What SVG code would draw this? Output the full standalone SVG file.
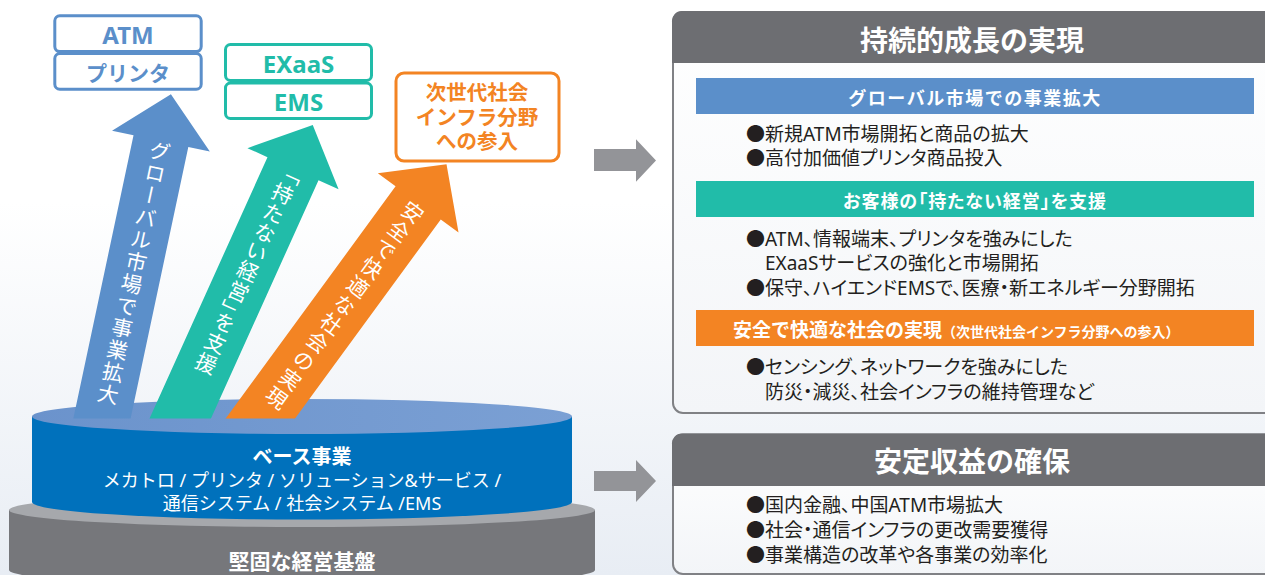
<svg xmlns="http://www.w3.org/2000/svg" width="1265" height="575" viewBox="0 0 1265 575">
  <defs>
    <linearGradient id="bg" x1="0" y1="0" x2="0" y2="1">
      <stop offset="0" stop-color="#ffffff"/>
      <stop offset="0.35" stop-color="#ffffff"/>
      <stop offset="1" stop-color="#e8edf4"/>
    </linearGradient>
    <linearGradient id="panelFill" x1="0" y1="0" x2="0" y2="1">
      <stop offset="0" stop-color="#ffffff"/>
      <stop offset="1" stop-color="#f3f5f8"/>
    </linearGradient>
    <linearGradient id="topFace" x1="0" y1="0" x2="1" y2="0">
      <stop offset="0" stop-color="#6b93cc"/>
      <stop offset="1" stop-color="#7ba0d4"/>
    </linearGradient>
    <!-- arrows end on the top face of the base cylinder -->
    <clipPath id="arrowClip">
      <rect x="0" y="0" width="620" height="418.5"/>
    </clipPath>
  </defs>
  <style>
    text { font-family: "Noto Sans", "Noto Sans CJK JP", sans-serif; }
    .box { fill: #ffffff; stroke-width: 3; }
    .boxTxt { font-weight: 700; text-anchor: middle; }
    .vtxt { fill: #ffffff; font-size: 21px; text-anchor: middle; writing-mode: vertical-rl; }
    .cylTxt { fill: #ffffff; text-anchor: middle; }
    .panel { fill: url(#panelFill); stroke: #808185; stroke-width: 2; }
    .head { fill: #6d6e72; }
    .title { fill: #ffffff; font-size: 28px; font-weight: 700; text-anchor: middle; }
    .barTxt { fill: #ffffff; font-size: 18px; font-weight: 700; text-anchor: middle; }
    .bul { fill: #231f20; font-size: 19px; font-feature-settings: "palt"; }
    .flow { fill: #939498; }
  </style>

  <rect x="0" y="0" width="1265" height="575" fill="url(#bg)"/>

  <!-- base: stacked cylinders -->
  <g id="foundation">
    <path d="M 9,510 L 9,570 A 293 17 0 0 0 595,570 L 595,510 Z" fill="#76777b"/>
    <ellipse cx="302" cy="510" rx="293" ry="17" fill="#a6a8ac"/>
    <text class="cylTxt" x="302" y="569" font-size="21" font-weight="700">堅固な経営基盤</text>
  </g>
  <g id="base-business">
    <path d="M 32,416.5 L 32,502 A 270 17.5 0 0 0 572,502 L 572,416.5 Z" fill="#0071bc"/>
    <ellipse cx="302" cy="416.5" rx="270" ry="17.5" fill="url(#topFace)"/>
    <text class="cylTxt" x="302" y="464" font-size="20" font-weight="700">ベース事業</text>
    <text class="cylTxt" x="302" y="487" font-size="18">メカトロ / プリンタ / ソリューション&amp;サービス /</text>
    <text class="cylTxt" x="302" y="510" font-size="18">通信システム / 社会システム /EMS</text>
  </g>

  <!-- growth arrows rising from the base -->
  <g id="arrow-global" clip-path="url(#arrowClip)">
    <g transform="translate(102.5,416) rotate(12)">
      <path d="M -28,30 L -28,-281 L -50,-281 L 0,-329 L 50,-281 L 28,-281 L 28,30 Z" fill="#5b8fca"/>
      <text class="vtxt" x="0" y="-146" letter-spacing="1.6">グローバル市場で事業拡大</text>
    </g>
  </g>
  <g id="arrow-asset-light" clip-path="url(#arrowClip)">
    <g transform="translate(180,419) rotate(24.3)">
      <path d="M -28,30 L -28,-274.6 L -50,-274.6 L 0,-322.6 L 50,-274.6 L 28,-274.6 L 28,30 Z" fill="#21bca9"/>
      <text class="vtxt" x="0" y="-160" font-size="20" letter-spacing="1.5" style="font-feature-settings: 'vpal'">「持たない経営」を支援</text>
    </g>
  </g>
  <g id="arrow-safe-society" clip-path="url(#arrowClip)">
    <g transform="translate(260,419) rotate(36.2)">
      <path d="M -28,30 L -28,-267.8 L -50,-267.8 L 0,-315.8 L 50,-267.8 L 28,-267.8 L 28,30 Z" fill="#f38423"/>
      <text class="vtxt" x="0" y="-141" letter-spacing="2">安全で快適な社会の実現</text>
    </g>
  </g>

  <!-- target boxes above the arrows -->
  <g id="box-atm">
    <rect class="box" x="54.8" y="15.8" width="146.4" height="35.8" rx="5" stroke="#5b8fca"/>
    <rect class="box" x="54.8" y="53.5" width="146.4" height="35.7" rx="5" stroke="#5b8fca"/>
    <text class="boxTxt" x="128" y="44" font-size="24" fill="#5b8fca">ATM</text>
    <text class="boxTxt" x="128" y="81" font-size="21" fill="#5b8fca">プリンタ</text>
  </g>
  <g id="box-exaas">
    <rect class="box" x="225.5" y="44.5" width="146" height="36" rx="5" stroke="#21bca9"/>
    <rect class="box" x="225.5" y="83" width="146" height="35.5" rx="5" stroke="#21bca9"/>
    <text class="boxTxt" x="298.5" y="73" font-size="24" fill="#21bca9">EXaaS</text>
    <text class="boxTxt" x="298.5" y="111" font-size="24" fill="#21bca9">EMS</text>
  </g>
  <g id="box-infra">
    <rect class="box" x="396" y="73" width="163" height="88" rx="8" stroke="#f38423" stroke-width="4"/>
    <text class="boxTxt" x="477" y="100" font-size="20.5" fill="#f38423">次世代社会</text>
    <text class="boxTxt" x="477" y="124.5" font-size="20.5" fill="#f38423">インフラ分野</text>
    <text class="boxTxt" x="477" y="149" font-size="20.5" fill="#f38423">への参入</text>
  </g>

  <!-- connectors to the result panels -->
  <g id="connectors">
    <polygon class="flow" points="594,149 636,149 636,139.3 656,160.5 636,181.7 636,171 594,171"/>
    <polygon class="flow" points="594,471 636,471 636,460 656,481 636,502 636,491 594,491"/>
  </g>

  <!-- panel: sustainable growth -->
  <g id="panel-growth">
    <rect class="panel" x="673" y="12" width="612" height="401" rx="10"/>
    <path class="head" d="M 672,63 L 672,22 A 10 10 0 0 1 682,11 L 1285,11 L 1285,63 Z"/>
    <text class="title" x="972" y="51">持続的成長の実現</text>

    <rect x="696" y="78" width="558" height="36" fill="#5b8fca"/>
    <text class="barTxt" x="975" y="104.5" letter-spacing="1.5">グローバル市場での事業拡大</text>
    <text class="bul" y="140.5"><tspan x="746">●</tspan><tspan x="765">新規ATM市場開拓と商品の拡大</tspan></text>
    <text class="bul" y="165"><tspan x="746">●</tspan><tspan x="765">高付加価値プリンタ商品投入</tspan></text>

    <rect x="696" y="181" width="558" height="36" fill="#21bca9"/>
    <text class="barTxt" x="975" y="207.5" letter-spacing="1" style="font-feature-settings: 'palt'">お客様の「持たない経営」を支援</text>
    <text class="bul" y="245.5"><tspan x="746">●</tspan><tspan x="765">ATM、情報端末、プリンタを強みにした</tspan></text>
    <text class="bul" x="765" y="270">EXaaSサービスの強化と市場開拓</text>
    <text class="bul" y="294.5"><tspan x="746">●</tspan><tspan x="765">保守、ハイエンドEMSで、医療・新エネルギー分野開拓</tspan></text>

    <rect x="696" y="310" width="558" height="36" fill="#f38423"/>
    <text x="733" y="336.5" fill="#ffffff" font-weight="700"><tspan font-size="19">安全で快適な社会の実現</tspan><tspan font-size="14">（次世代社会インフラ分野への参入）</tspan></text>
    <text class="bul" y="374"><tspan x="746">●</tspan><tspan x="765">センシング、ネットワークを強みにした</tspan></text>
    <text class="bul" x="765" y="398.5">防災・減災、社会インフラの維持管理など</text>
  </g>

  <!-- panel: stable earnings -->
  <g id="panel-stable">
    <rect class="panel" x="673" y="434.5" width="612" height="139.5" rx="10"/>
    <path class="head" d="M 672,486 L 672,444.5 A 10 10 0 0 1 682,433.5 L 1285,433.5 L 1285,486 Z"/>
    <text class="title" x="972" y="471.5">安定収益の確保</text>
    <text class="bul" y="512"><tspan x="746">●</tspan><tspan x="765">国内金融、中国ATM市場拡大</tspan></text>
    <text class="bul" y="537"><tspan x="746">●</tspan><tspan x="765">社会・通信インフラの更改需要獲得</tspan></text>
    <text class="bul" y="561.5"><tspan x="746">●</tspan><tspan x="765">事業構造の改革や各事業の効率化</tspan></text>
  </g>
</svg>
